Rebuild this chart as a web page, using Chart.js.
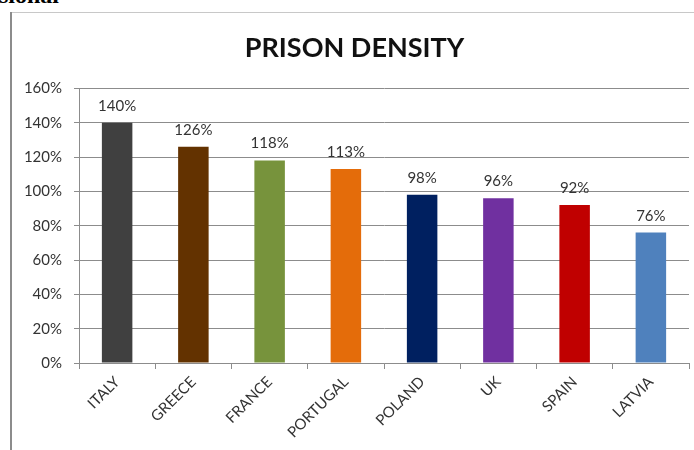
<!DOCTYPE html>
<html>
<head>
<meta charset="utf-8">
<script src="https://cdn.jsdelivr.net/npm/chart.js@4.4.0/dist/chart.umd.min.js"></script>
<style>
  html, body { margin: 0; padding: 0; background: #fff; }
  #wrap { position: relative; width: 694px; height: 450px; overflow: hidden; }
  #cut { position: absolute; left: -1px; top: -18px; font: bold 24px "Liberation Serif", serif; color: #000; }
  #frame-top { position: absolute; left: 10px; top: 12px; width: 684px; height: 1px; background: #c8c8c8; }
  #frame-left { position: absolute; left: 10px; top: 12px; width: 2px; height: 438px; background: #8c8c8c; }
  canvas { position: absolute; left: 0; top: 0; }
</style>
</head>
<body>
<div id="wrap">
  <div id="cut">sional</div>
  <div id="frame-top"></div>
  <div id="frame-left"></div>
  <canvas id="chart" width="694" height="450"></canvas>
</div>
<script>
// --- DATA ---
const countries = ['ITALY', 'GREECE', 'FRANCE', 'PORTUGAL', 'POLAND', 'UK', 'SPAIN', 'LATVIA'];
const density = [140, 126, 118, 113, 98, 96, 92, 76];
const barColors = ['#404040', '#633200', '#77933c', '#e46c0a', '#002060', '#7030a0', '#c00000', '#4f81bd'];
const yTicks = [0, 20, 40, 60, 80, 100, 120, 140, 160];

Chart.defaults.font.family = 'Lato, "Open Sans", sans-serif';
Chart.defaults.color = '#333';

// value labels above each bar
const barLabels = {
    id: 'barLabels',
    afterDatasetsDraw(chart) {
        const ctx = chart.ctx;
        const meta = chart.getDatasetMeta(0);
        ctx.save();
        ctx.font = '15px Lato, "Open Sans", sans-serif';
        ctx.fillStyle = '#333';
        ctx.textAlign = 'center';
        ctx.textBaseline = 'alphabetic';
        meta.data.forEach((bar, i) => {
            ctx.fillText(density[i] + '%', bar.x, bar.y - 12);
        });
        ctx.restore();
    }
};

new Chart(document.getElementById('chart'), {
    type: 'bar',
    data: {
        labels: countries,
        datasets: [{
            data: density,
            backgroundColor: barColors,
            borderWidth: 0,
            categoryPercentage: 1,
            barPercentage: 0.4
        }]
    },
    options: {
        responsive: false,
        animation: false,
        // left padding nudges the title centre right; y axis width makes up the rest (79px)
        layout: { padding: { left: 20, right: 5, top: 0, bottom: 0 } },
        plugins: {
            legend: { display: false },
            tooltip: { enabled: false },
            title: {
                display: true,
                text: 'PRISON DENSITY',
                color: '#111',
                font: { size: 27, weight: 'bold', family: 'Lato, "Open Sans", sans-serif' },
                padding: { top: 32, bottom: 24 }
            }
        },
        scales: {
            x: {
                grid: { drawOnChartArea: false, color: '#8c8c8c', tickLength: 6, offset: true },
                border: { color: '#8c8c8c', width: 1 },
                ticks: { minRotation: 45, maxRotation: 45, padding: 4, font: { size: 15 }, color: '#333' },
                afterFit(scale) { scale.height = 87; }
            },
            y: {
                min: 0,
                max: 160,
                afterBuildTicks(scale) { scale.ticks = yTicks.map(v => ({ value: v })); },
                grid: { color: '#8c8c8c', tickLength: 5 },
                border: { color: '#8c8c8c', width: 1 },
                ticks: { padding: 12, font: { size: 15 }, color: '#333', callback: v => v + '%' },
                afterFit(scale) { scale.width = 59; }
            }
        }
    },
    plugins: [barLabels]
});
</script>
</body>
</html>
